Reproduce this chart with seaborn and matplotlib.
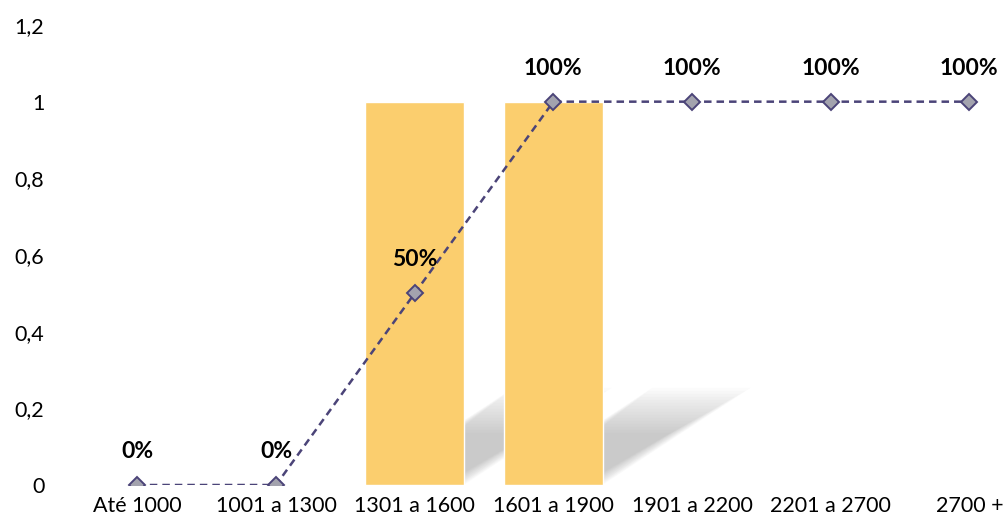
import numpy as np
import matplotlib
matplotlib.use("Agg")
import matplotlib.pyplot as plt
from matplotlib.patches import Polygon
import seaborn as sns

# Data
categories = ["Até 1000", "1001 a 1300", "1301 a 1600", "1601 a 1900",
              "1901 a 2200", "2201 a 2700", "2700 +"]
bar_values = [0, 0, 1, 1, 0, 0, 0]
line_values = [0, 0, 0.5, 1, 1, 1, 1]
point_labels = ["0%", "0%", "50%", "100%", "100%", "100%", "100%"]
y_ticks = [0, 0.2, 0.4, 0.6, 0.8, 1, 1.2]
y_tick_labels = ["0", "0,2", "0,4", "0,6", "0,8", "1", "1,2"]

sns.set_style("white")
plt.rcParams["font.family"] = ["Lato", "DejaVu Sans"]

fig = plt.figure(figsize=(10.04, 5.27), dpi=100)
ax = fig.add_axes([68 / 1004, 42 / 527, (1004 - 68) / 1004, (485 - 25) / 527])

bar_width = 0.71
bar_color = "#FBCE6E"

# soft, blurred drop shadows behind the two bars
for i, v in enumerate(bar_values):
    if v <= 0:
        continue
    x0, x1 = i - bar_width / 2, i + bar_width / 2
    dx, h = 0.99, 0.235
    n = 16
    for k in range(n):
        s = k / (n - 1)
        top = h * (1.08 - 0.5 * s)
        shift = dx * top / h
        inset = 0.08 * s
        poly = Polygon([(x0 + inset, 0), (x1 - inset, 0.015 * s),
                        (x1 + shift - inset, top),
                        (x0 + shift + inset, top)],
                       closed=True, facecolor="#8c8c8c", edgecolor="none",
                       alpha=0.032, zorder=1)
        ax.add_patch(poly)

sns.barplot(x=categories, y=bar_values, color=bar_color, width=bar_width,
            saturation=1, ax=ax, zorder=2)

x_pos = np.arange(len(categories))
sns.lineplot(x=x_pos, y=line_values, ax=ax, color="#4B4478", linewidth=1.8,
             linestyle=(0, (3, 2)), marker="D", markersize=8,
             markerfacecolor="#A3A3AE", markeredgecolor="#4B4478",
             markeredgewidth=1.4, zorder=3)

for xi, yi, lab in zip(x_pos, line_values, point_labels):
    ax.annotate(lab, (xi, yi), xytext=(0, 24), textcoords="offset points",
                ha="center", va="center", fontsize=16.5, fontweight="bold",
                color="black", zorder=4)

ax.set_xlim(-0.5, 6.25)
ax.set_ylim(0, 1.2)
ax.set_yticks(y_ticks)
ax.set_yticklabels(y_tick_labels)
ax.tick_params(axis="both", length=0, labelsize=15.5, colors="black")
ax.tick_params(axis="y", pad=17)
ax.tick_params(axis="x", pad=8)
ax.set_xlabel("")
ax.set_ylabel("")
for sp in ax.spines.values():
    sp.set_visible(False)

fig.savefig("out.png", dpi=100)
